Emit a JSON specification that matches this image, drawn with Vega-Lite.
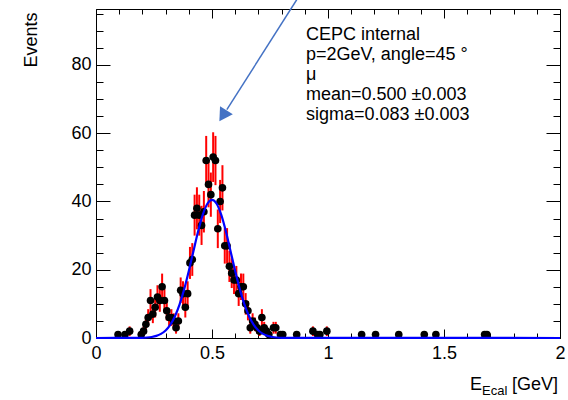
{
  "$schema": "https://vega.github.io/schema/vega-lite/v6.json",
  "width": 464,
  "height": 329,
  "autosize": {"type": "none"},
  "padding": {"left": 96, "top": 9, "right": 8, "bottom": 62},
  "background": "white",
  "config": {
    "font": "Liberation Sans",
    "view": {"stroke": "black", "strokeWidth": 1},
    "axis": {
      "domainColor": "black", "tickColor": "black", "labelColor": "black", "titleColor": "black",
      "labelFont": "Liberation Sans", "titleFont": "Liberation Sans",
      "labelFontSize": 18, "titleFontSize": 18, "titleFontWeight": "normal",
      "grid": false, "domainWidth": 1, "tickWidth": 1
    }
  },
  "data": {"values": [
    {"x":0.095,"n":1,"lo":0,"hi":2},
    {"x":0.125,"n":1,"lo":0,"hi":2},
    {"x":0.145,"n":2,"lo":0.59,"hi":3.41},
    {"x":0.195,"n":1,"lo":0,"hi":2},
    {"x":0.205,"n":2,"lo":0.59,"hi":3.41},
    {"x":0.215,"n":4,"lo":2,"hi":6},
    {"x":0.225,"n":6,"lo":3.55,"hi":8.45},
    {"x":0.235,"n":11,"lo":7.68,"hi":14.32},
    {"x":0.245,"n":7,"lo":4.35,"hi":9.65},
    {"x":0.255,"n":9,"lo":6,"hi":12},
    {"x":0.265,"n":12,"lo":8.54,"hi":15.46},
    {"x":0.275,"n":11,"lo":7.68,"hi":14.32},
    {"x":0.285,"n":15,"lo":11.13,"hi":18.87},
    {"x":0.295,"n":11,"lo":7.68,"hi":14.32},
    {"x":0.305,"n":8,"lo":5.17,"hi":10.83},
    {"x":0.315,"n":6,"lo":3.55,"hi":8.45},
    {"x":0.325,"n":6,"lo":3.55,"hi":8.45},
    {"x":0.335,"n":5,"lo":2.76,"hi":7.24},
    {"x":0.345,"n":3,"lo":1.27,"hi":4.73},
    {"x":0.355,"n":5,"lo":2.76,"hi":7.24},
    {"x":0.365,"n":14,"lo":10.26,"hi":17.74},
    {"x":0.375,"n":13,"lo":9.39,"hi":16.61},
    {"x":0.385,"n":9,"lo":6,"hi":12},
    {"x":0.395,"n":13,"lo":9.39,"hi":16.61},
    {"x":0.405,"n":22,"lo":17.31,"hi":26.69},
    {"x":0.415,"n":23,"lo":18.2,"hi":27.8},
    {"x":0.425,"n":36,"lo":30,"hi":42},
    {"x":0.435,"n":38,"lo":31.84,"hi":44.16},
    {"x":0.445,"n":36,"lo":30,"hi":42},
    {"x":0.455,"n":33,"lo":27.26,"hi":38.74},
    {"x":0.465,"n":37,"lo":30.92,"hi":43.08},
    {"x":0.475,"n":52,"lo":44.79,"hi":59.21},
    {"x":0.485,"n":45,"lo":38.29,"hi":51.71},
    {"x":0.495,"n":42,"lo":35.52,"hi":48.48},
    {"x":0.505,"n":53,"lo":45.72,"hi":60.28},
    {"x":0.515,"n":52,"lo":44.79,"hi":59.21},
    {"x":0.525,"n":32,"lo":26.34,"hi":37.66},
    {"x":0.535,"n":40,"lo":33.68,"hi":46.32},
    {"x":0.545,"n":44,"lo":37.37,"hi":50.63},
    {"x":0.555,"n":27,"lo":21.8,"hi":32.2},
    {"x":0.565,"n":27,"lo":21.8,"hi":32.2},
    {"x":0.575,"n":21,"lo":16.42,"hi":25.58},
    {"x":0.585,"n":19,"lo":14.64,"hi":23.36},
    {"x":0.595,"n":17,"lo":12.88,"hi":21.12},
    {"x":0.605,"n":17,"lo":12.88,"hi":21.12},
    {"x":0.615,"n":13,"lo":9.39,"hi":16.61},
    {"x":0.625,"n":15,"lo":11.13,"hi":18.87},
    {"x":0.635,"n":15,"lo":11.13,"hi":18.87},
    {"x":0.645,"n":10,"lo":6.84,"hi":13.16},
    {"x":0.655,"n":8,"lo":5.17,"hi":10.83},
    {"x":0.665,"n":3,"lo":1.27,"hi":4.73},
    {"x":0.675,"n":5,"lo":2.76,"hi":7.24},
    {"x":0.685,"n":4,"lo":2,"hi":6},
    {"x":0.695,"n":3,"lo":1.27,"hi":4.73},
    {"x":0.705,"n":2,"lo":0.59,"hi":3.41},
    {"x":0.715,"n":6,"lo":3.55,"hi":8.45},
    {"x":0.725,"n":3,"lo":1.27,"hi":4.73},
    {"x":0.735,"n":2,"lo":0.59,"hi":3.41},
    {"x":0.745,"n":1,"lo":0,"hi":2},
    {"x":0.765,"n":3,"lo":1.27,"hi":4.73},
    {"x":0.775,"n":3,"lo":1.27,"hi":4.73},
    {"x":0.795,"n":1,"lo":0,"hi":2},
    {"x":0.805,"n":1,"lo":0,"hi":2},
    {"x":0.865,"n":1,"lo":0,"hi":2},
    {"x":0.935,"n":2,"lo":0.59,"hi":3.41},
    {"x":0.955,"n":1,"lo":0,"hi":2},
    {"x":0.965,"n":1,"lo":0,"hi":2},
    {"x":0.995,"n":2,"lo":0.59,"hi":3.41},
    {"x":1.145,"n":1,"lo":0,"hi":2},
    {"x":1.205,"n":1,"lo":0,"hi":2},
    {"x":1.305,"n":1,"lo":0,"hi":2},
    {"x":1.415,"n":1,"lo":0,"hi":2},
    {"x":1.465,"n":1,"lo":0,"hi":2},
    {"x":1.675,"n":1,"lo":0,"hi":2},
    {"x":1.685,"n":1,"lo":0,"hi":2}
  ]},
  "resolve": {"axis": {"x": "independent", "y": "independent"}},
  "layer": [
    {
      "mark": {"type": "rule", "color": "#ff0000", "strokeWidth": 2},
      "encoding": {
        "x": {"field": "x", "type": "quantitative", "scale": {"domain": [0, 2], "nice": false, "zero": false}, "axis": null},
        "y": {"field": "lo", "type": "quantitative", "scale": {"domain": [0, 96.4], "nice": false, "zero": false}, "axis": null},
        "y2": {"field": "hi"}
      }
    },
    {
      "mark": {"type": "point", "filled": true, "color": "black", "opacity": 1, "size": 58, "strokeWidth": 0},
      "encoding": {
        "x": {"field": "x", "type": "quantitative", "scale": {"domain": [0, 2], "nice": false, "zero": false},
          "axis": {"orient": "bottom", "values": [0,0.1,0.2,0.3,0.4,0.5,0.6,0.7,0.8,0.9,1,1.1,1.2,1.3,1.4,1.5,1.6,1.7,1.8,1.9,2],
            "labelExpr": "datum.value % 0.5 === 0 ? '' + datum.value : ''",
            "tickSize": {"condition": {"test": "datum.value % 0.5 === 0", "value": -9}, "value": -5},
            "labelPadding": 15, "labelFlush": false, "labelOverlap": false, "labelBound": false, "title": null}},
        "y": {"field": "n", "type": "quantitative", "scale": {"domain": [0, 96.4], "nice": false, "zero": false},
          "axis": {"orient": "left", "values": [0,5,10,15,20,25,30,35,40,45,50,55,60,65,70,75,80,85,90,95],
            "labelExpr": "datum.value % 20 === 0 ? '' + datum.value : ''",
            "tickSize": {"condition": {"test": "datum.value % 20 === 0", "value": -14}, "value": -7},
            "labelPadding": 19, "labelFlush": false, "labelOverlap": false, "labelBound": false,
            "title": "Events", "titleX": -65, "titleY": 3, "titleAngle": -90, "titleAlign": "right", "titleBaseline": "middle"}}
      }
    },
    {
      "data": {"values": [
        {"x":0,"f":0},{"x":0.2,"f":0.06},{"x":0.22,"f":0.14},{"x":0.24,"f":0.3},{"x":0.26,"f":0.62},
        {"x":0.28,"f":1.21},{"x":0.3,"f":2.22},{"x":0.32,"f":3.86},{"x":0.34,"f":6.32},{"x":0.36,"f":9.77},
        {"x":0.38,"f":14.24},{"x":0.4,"f":19.6},{"x":0.42,"f":25.45},{"x":0.44,"f":31.19},{"x":0.46,"f":36.06},
        {"x":0.48,"f":39.34},{"x":0.5,"f":40.5},{"x":0.52,"f":39.34},{"x":0.54,"f":36.06},{"x":0.56,"f":31.19},
        {"x":0.58,"f":25.45},{"x":0.6,"f":19.6},{"x":0.62,"f":14.24},{"x":0.64,"f":9.77},{"x":0.66,"f":6.32},
        {"x":0.68,"f":3.86},{"x":0.7,"f":2.22},{"x":0.72,"f":1.21},{"x":0.74,"f":0.62},{"x":0.76,"f":0.3},
        {"x":0.78,"f":0.14},{"x":0.8,"f":0.06},{"x":2,"f":0}
      ]},
      "mark": {"type": "line", "color": "#0000ff", "strokeWidth": 2.2, "interpolate": "monotone"},
      "encoding": {
        "x": {"field": "x", "type": "quantitative", "scale": {"domain": [0, 2], "nice": false, "zero": false},
          "axis": {"orient": "top", "values": [0,0.1,0.2,0.3,0.4,0.5,0.6,0.7,0.8,0.9,1,1.1,1.2,1.3,1.4,1.5,1.6,1.7,1.8,1.9,2],
            "labels": false, "domain": false,
            "tickSize": {"condition": {"test": "datum.value % 0.5 === 0", "value": -9}, "value": -5}, "title": null}},
        "y": {"field": "f", "type": "quantitative", "scale": {"domain": [0, 96.4], "nice": false, "zero": false},
          "axis": {"orient": "right", "values": [0,5,10,15,20,25,30,35,40,45,50,55,60,65,70,75,80,85,90,95],
            "labels": false, "domain": false,
            "tickSize": {"condition": {"test": "datum.value % 20 === 0", "value": -14}, "value": -7}, "title": null}}
      }
    },
    {
      "data": {"values": [{"t": "info"}]},
      "mark": {"type": "text", "text": ["CEPC internal", "p=2GeV, angle=45 °", "μ", "mean=0.500 ±0.003", "sigma=0.083 ±0.003"],
        "align": "left", "baseline": "alphabetic", "fontSize": 18, "lineHeight": 20, "font": "Liberation Sans", "color": "black"},
      "encoding": {
        "x": {"datum": 0.905, "type": "quantitative", "scale": {"domain": [0, 2], "nice": false, "zero": false}, "axis": null},
        "y": {"datum": 87.2, "type": "quantitative", "scale": {"domain": [0, 96.4], "nice": false, "zero": false}, "axis": null}
      }
    },
    {
      "data": {"values": [{"t": "E"}]},
      "mark": {"type": "text", "text": "E", "align": "left", "baseline": "alphabetic", "fontSize": 18, "font": "Liberation Sans", "color": "black"},
      "encoding": {
        "x": {"datum": 1.612, "type": "quantitative", "scale": {"domain": [0, 2], "nice": false, "zero": false}, "axis": null},
        "y": {"datum": -15.25, "type": "quantitative", "scale": {"domain": [0, 96.4], "nice": false, "zero": false}, "axis": null}
      }
    },
    {
      "data": {"values": [{"t": "Ecal"}]},
      "mark": {"type": "text", "text": "Ecal", "align": "left", "baseline": "alphabetic", "fontSize": 13, "font": "Liberation Sans", "color": "black"},
      "encoding": {
        "x": {"datum": 1.664, "type": "quantitative", "scale": {"domain": [0, 2], "nice": false, "zero": false}, "axis": null},
        "y": {"datum": -16.7, "type": "quantitative", "scale": {"domain": [0, 96.4], "nice": false, "zero": false}, "axis": null}
      }
    },
    {
      "data": {"values": [{"t": "GeV"}]},
      "mark": {"type": "text", "text": "[GeV]", "align": "right", "baseline": "alphabetic", "fontSize": 18, "font": "Liberation Sans", "color": "black"},
      "encoding": {
        "x": {"datum": 1.991, "type": "quantitative", "scale": {"domain": [0, 2], "nice": false, "zero": false}, "axis": null},
        "y": {"datum": -15.25, "type": "quantitative", "scale": {"domain": [0, 96.4], "nice": false, "zero": false}, "axis": null}
      }
    },
    {
      "data": {"values": [{"t": "arrow"}]},
      "mark": {"type": "rule", "color": "#4472c4", "strokeWidth": 1.5},
      "encoding": {
        "x": {"datum": 0.865, "type": "quantitative", "scale": {"domain": [0, 2], "nice": false, "zero": false}, "axis": null},
        "y": {"datum": 99.1, "type": "quantitative", "scale": {"domain": [0, 96.4], "nice": false, "zero": false}, "axis": null},
        "x2": {"datum": 0.564},
        "y2": {"datum": 66.9}
      }
    },
    {
      "data": {"values": [{"t": "head"}]},
      "mark": {"type": "point", "shape": "triangle-up", "filled": true, "color": "#4472c4", "opacity": 1, "size": 230, "angle": 212.5, "strokeWidth": 0},
      "encoding": {
        "x": {"datum": 0.547, "type": "quantitative", "scale": {"domain": [0, 2], "nice": false, "zero": false}, "axis": null},
        "y": {"datum": 65.1, "type": "quantitative", "scale": {"domain": [0, 96.4], "nice": false, "zero": false}, "axis": null}
      }
    }
  ]
}
